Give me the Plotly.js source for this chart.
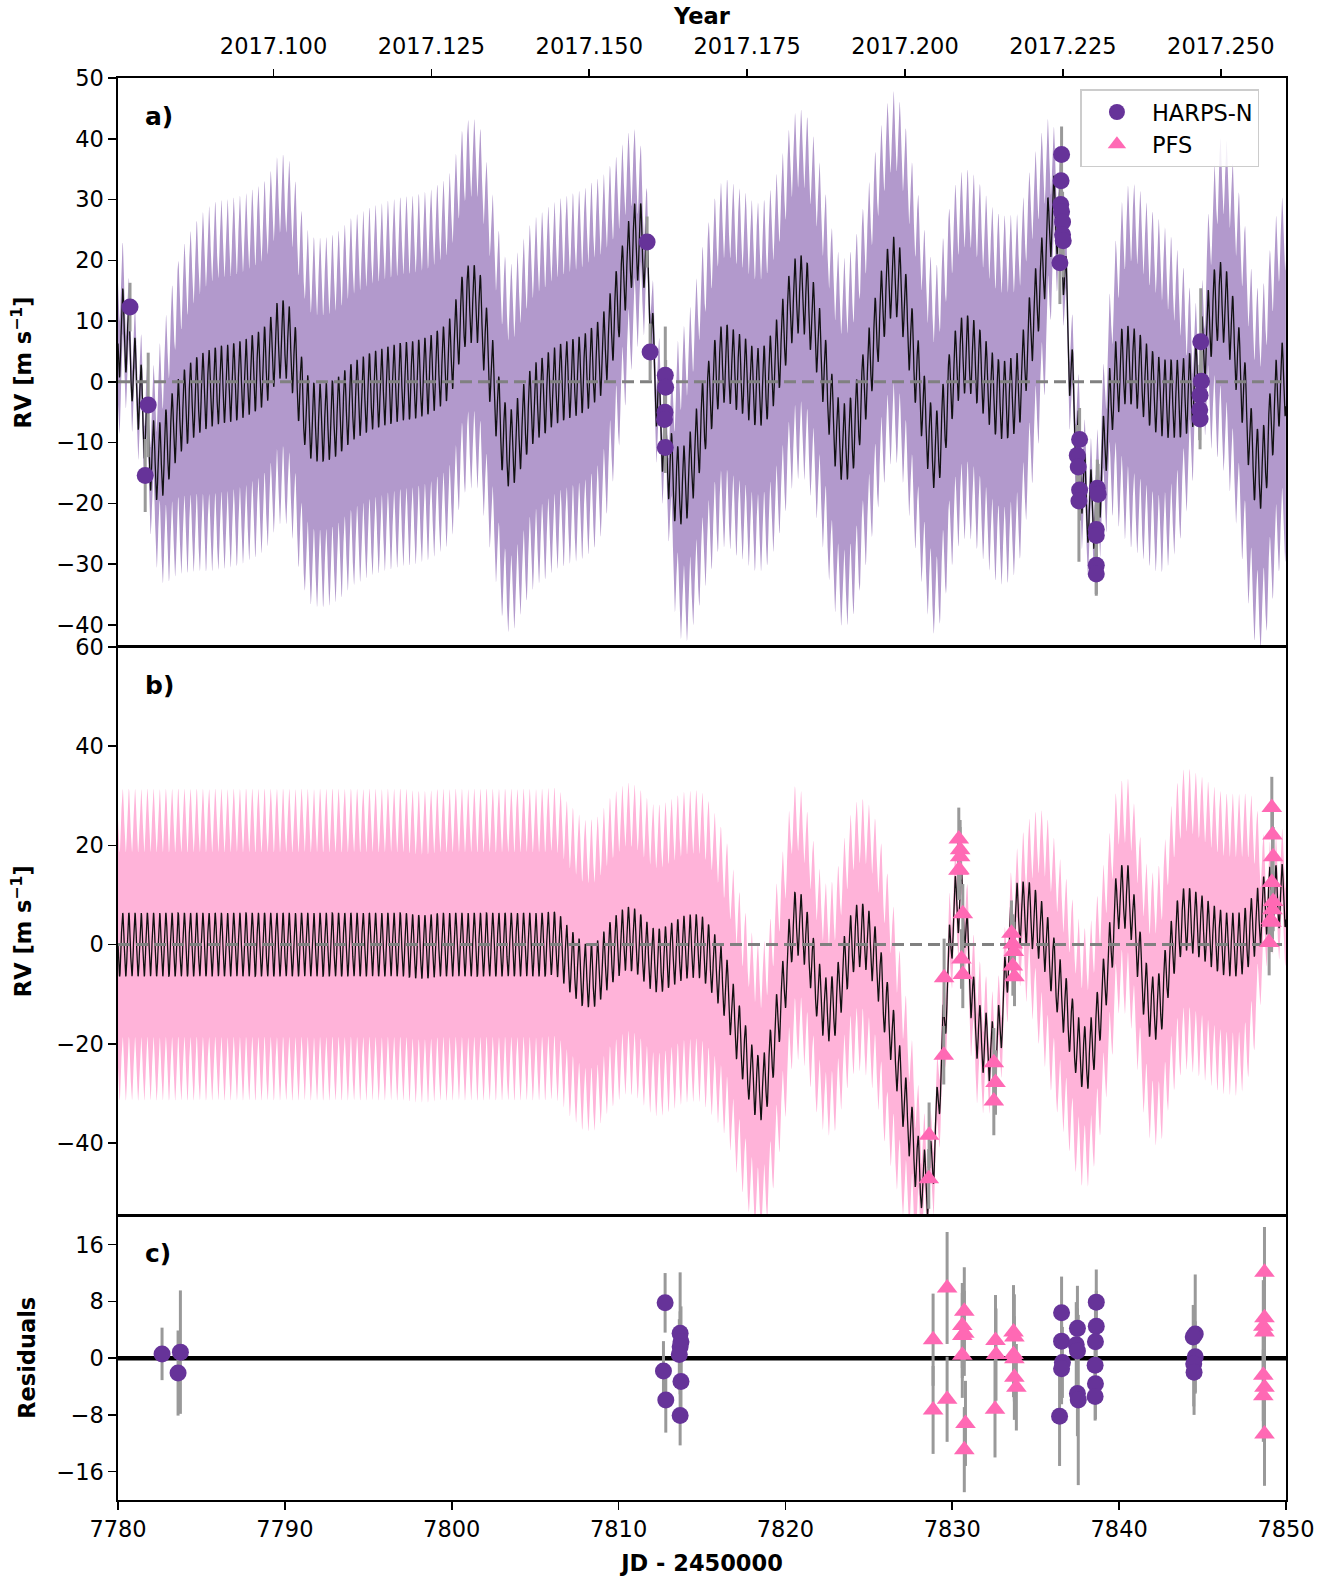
<!DOCTYPE html>
<html><head><meta charset="utf-8">
<script src="https://cdn.plot.ly/plotly-3.0.1.min.js"></script>
<style>body{margin:0;background:#fff}</style>
</head><body><div id="chart" style="width:1327px;height:1579px"></div>
<script>
// ---------- values ----------
// Planet signal (amplitude, period, a time of maximum)
const K_read = 6.4;
const P_read = 0.3696;
const tPeak_read = 7780.28;

// Panel a: smooth (GP) part of the HARPS-N model, read from the centre of the oscillation
const trendA_jd = [7780,7780.3,7780.7,7781,7781.5,7782,7782.5,7783,7783.5,7784,7785,7786,7787,7788,7789,7789.5,7790,7790.5,7791,7791.5,7792,7793,7794,7795,7796,7797,7798,7799,7800,7800.5,7801,7801.5,7802,7802.5,7803,7803.5,7804,7804.5,7805,7805.5,7806,7806.5,7807,7807.5,7808,7808.5,7809,7809.5,7810,7810.5,7811,7811.5,7811.8,7812,7812.3,7812.6,7813,7813.5,7814,7814.5,7815,7815.5,7816,7816.5,7817,7817.5,7818,7818.5,7819,7819.5,7820,7820.5,7821,7821.5,7822,7822.5,7823,7823.5,7824,7824.5,7825,7825.5,7826,7826.5,7827,7827.5,7828,7828.5,7829,7829.5,7830,7830.5,7831,7831.5,7832,7832.5,7833,7833.5,7834,7834.5,7835,7835.5,7836,7836.5,7836.8,7837,7837.3,7837.6,7838,7838.5,7839,7839.5,7840,7840.5,7841,7841.5,7842,7842.5,7843,7843.5,7844,7844.5,7845,7845.5,7846,7846.5,7847,7847.5,7848,7848.5,7849,7849.5,7850];
const trendA_rv = [6,9,5,1,-5,-12,-13,-10,-6.5,-4.3,-1.8,-0.6,0,1.2,3.4,6.5,7,4,-2.3,-6,-6.7,-6,-3.4,-1.8,-0.75,0,0.5,1.75,4.8,10,12.8,12.8,6.9,-0.2,-8,-11,-8.7,-5.5,-3.3,-2.3,-1,-0.2,0.4,0.85,1.6,2.8,4.5,8.4,13.4,19.2,23,22,17,7,-2,-8,-13,-17,-16.6,-12.5,-6.7,-2,2.2,3,1.9,1,-0.5,-0.8,0.7,4.2,9,13.6,14.4,11.6,6.3,-0.8,-7.8,-9.9,-8.4,-3.4,2.5,9,14.5,17.5,14.2,6.9,-0.2,-7.8,-11.3,-6,0.4,4,4.5,2.8,0.4,-2,-3,-2.5,-0.8,6,12.5,19.5,27.5,25,15,5,-4,-12,-19,-21,-13,-2.8,1.6,2.8,2.2,0.4,-1.4,-2.5,-2.8,-2.8,-2.2,-0.5,4.8,10.4,13.4,11.3,5,-2.5,-12,-14.5,-8.7,-1.6,1];
// Panel a: half width of the shaded band
const sigA_jd = [7780,7780.7,7781.3,7781.8,7782.5,7783.5,7784.5,7786,7808,7809,7810,7810.5,7811,7811.5,7811.8,7812.3,7812.8,7813.5,7814.5,7815.5,7817,7833,7834.5,7835.5,7836,7836.5,7837.5,7838.6,7839,7839.5,7840.3,7842,7843.5,7844.3,7844.8,7845.5,7846,7847,7848,7850];
const sigA_rv = [10,5,5,6,13,19,22,24,24,23,18,15,12,8,5,6,5,17,21,23,24,24,21,16,9,5,6,5,8,13,22,23,18,10,5,15,20,22,23,24];

// Panel b: smooth (GP) part of the PFS model
const trendB_jd = [7780,7797,7798.2,7799.5,7805.5,7806,7806.5,7807,7807.5,7808,7808.5,7809,7809.5,7810,7810.5,7811,7811.5,7812,7812.5,7813,7813.5,7814,7814.5,7815,7815.5,7816,7816.5,7817,7817.5,7818,7818.5,7819,7819.5,7820,7820.5,7821,7821.5,7822,7822.5,7823,7823.5,7824,7824.5,7825,7825.5,7826,7826.5,7827,7827.5,7828,7828.5,7829,7829.3,7829.6,7830,7830.5,7830.8,7831,7831.5,7832,7832.5,7833,7833.5,7834,7834.5,7835,7835.5,7836,7836.5,7837,7837.5,7838,7838.5,7839,7839.5,7840,7840.5,7841,7841.5,7842,7842.5,7843,7843.5,7844,7844.5,7845,7845.5,7846,7846.5,7847,7847.5,7848,7848.5,7849,7849.5,7850];
const trendB_rv = [0,0,-0.5,0,0,0.3,-0.6,-2.9,-4.7,-6.2,-6.2,-4.3,-1.8,0,1.2,0.8,-1,-2.9,-3.2,-2.3,-1.4,-0.5,-0.3,-0.7,-2.9,-5.8,-9.5,-16,-21.5,-26.7,-29,-25,-15.7,-6.5,4.1,3.4,-2.5,-9.8,-13.1,-11.7,-5,0.4,1.9,0.4,-4.3,-12.4,-20,-29.6,-37.7,-45.4,-48,-38,-25,-12,4,9,4,-5,-17,-20,-22,-13,2,6.3,6.3,4.5,1.2,-4,-9.8,-15,-20.5,-23,-18.7,-10.2,-0.3,9.6,9.6,1.5,-8.4,-12.8,-11.3,-3.2,2.6,5.2,4.4,3.4,1.9,0.8,0,0,0.8,3.4,6.3,9.2,9.6,10];
const sigB_jd = [7780,7815,7817,7820,7822.5,7824.5,7826,7827,7828,7828.6,7829.5,7830.5,7831.5,7832.5,7833.6,7834.5,7835.5,7837,7839,7840,7842,7844,7846.5,7848,7848.7,7849.1,7850];
const sigB_rv = [25,25,23,22,19,21,22,18,10,6,7,5,9,6,6,12,19,20,19,17,21,24,24,20,8,5,8];

// HARPS-N radial velocities (panel a)
const harpsJD  = [7780.72,7781.63,7781.81,7811.71,7811.89,7812.80,7812.82,7812.78,7812.75,7812.80,7836.55,7836.52,7836.50,7836.55,7836.61,7836.61,7836.65,7836.45,7837.63,7837.49,7837.55,7837.63,7837.59,7838.69,7838.74,7838.63,7838.63,7838.63,7838.63,7844.89,7844.93,7844.85,7844.83,7844.85];
const harpsRV  = [12.3,-15.4,-3.8,23.0,4.9,1.1,-0.9,-5.0,-6.2,-10.8,37.4,33.1,29.2,28.0,26.3,24.2,23.2,19.6,-9.5,-12.1,-14.0,-17.8,-19.6,-17.5,-18.5,-24.3,-25.3,-30.2,-31.6,6.6,0.1,-2.2,-4.6,-6.1];
const harpsErr = [4.0,6.0,8.6,4.2,4.7,8.0,4.5,4.5,4.5,4.2,4.6,4.5,5,5,5,5,6,6.8,5.2,5,5,5,10,4.7,5,5,5,5,3.3,8.8,5,5,5,5];

// PFS radial velocities (panel b)
const pfsJD  = [7828.59,7828.61,7829.49,7829.51,7830.39,7830.47,7830.47,7830.43,7830.37,7830.63,7830.55,7830.63,7832.49,7832.59,7832.49,7833.55,7833.63,7833.69,7833.63,7833.73,7849.15,7849.19,7849.23,7849.15,7849.23,7849.19,7849.09,7849.13,7848.99];
const pfsRV  = [-47.2,-38.4,-22.3,-6.7,21.3,19.1,17.7,15.1,15.0,6.2,-2.9,-6.0,-23.8,-27.8,-31.5,2.3,0.1,-1.4,-4.3,-6.5,27.6,22.1,17.7,12.5,8.7,7.0,5.0,4.5,0.4];
const pfsErr = [6,6.6,5.9,7.9,6.3,6,6,6,6,6,6,6.8,7,6.5,6.9,6.6,6,6,6,5.9,6.2,6,6,6,6,6,6,6,6.6];

// Residuals (panel c)
const resHJD  = [7782.64,7783.74,7783.60,7812.79,7812.69,7812.83,7813.69,7813.74,7813.69,7813.64,7813.74,7813.69,7836.55,7836.55,7836.60,7836.55,7836.43,7837.50,7837.43,7837.50,7837.50,7837.55,7838.63,7838.63,7838.58,7838.56,7838.58,7838.56,7844.56,7844.44,7844.56,7844.47,7844.49];
const resHRV  = [0.6,0.85,-2.1,7.8,-1.8,-5.9,3.5,2.3,1.6,0.5,-3.3,-8.1,6.4,2.4,-0.6,-1.5,-8.2,4.2,1.9,1.0,-5.0,-5.9,7.9,4.5,2.3,-1.0,-3.6,-5.4,3.4,3.0,0.2,-0.8,-2.0];
const resHErr = [3.7,8.7,6,4.2,4.2,4.6,8.6,5,5,5,5,4.2,5.1,5,5,5,7,6,6,6,6,12,4.6,5,5,5,5,3.4,8.4,4.5,5,6,6];
const resPJD  = [7828.85,7828.85,7829.69,7829.69,7830.72,7830.60,7830.72,7830.60,7830.60,7830.79,7830.72,7832.59,7832.62,7832.56,7833.67,7833.72,7833.67,7833.72,7833.72,7833.84,7848.71,7848.71,7848.64,7848.71,7848.64,7848.71,7848.64,7848.71];
const resPRV  = [2.6,-7.3,9.9,-5.8,6.6,4.6,3.5,3.2,0.4,-9.2,-12.9,2.5,0.5,-7.2,3.7,3.0,0.5,-0.1,-2.7,-4.1,12.1,5.7,4.5,3.7,-2.4,-4.1,-5.3,-10.7];
const resPErr = [6.5,6.2,7.9,6,6.2,6,6,6,6,6,6,6.4,6.5,6.8,6.6,6,6,6,6,6.1,6.4,6.5,6.5,6.5,6.5,6.5,6.5,7.3];

// Axis labels
const yearTicks = [2017.100,2017.125,2017.150,2017.175,2017.200,2017.225,2017.250];
const yearRange = [2017.07537, 2017.26033];
const jdRange = [7780, 7850];

// ---------- helpers ----------
function hermite(ts, vs) {
  const n = ts.length, m = new Array(n);
  for (let i = 0; i < n; i++) {
    if (i === 0) m[i] = (vs[1]-vs[0])/(ts[1]-ts[0]);
    else if (i === n-1) m[i] = (vs[n-1]-vs[n-2])/(ts[n-1]-ts[n-2]);
    else {
      const d0 = (vs[i]-vs[i-1])/(ts[i]-ts[i-1]), d1 = (vs[i+1]-vs[i])/(ts[i+1]-ts[i]);
      m[i] = (d0*d1 <= 0) ? 0 : (d0+d1)/2;
    }
  }
  return function(t) {
    if (t <= ts[0]) return vs[0];
    if (t >= ts[n-1]) return vs[n-1];
    let i = 0; while (t > ts[i+1]) i++;
    const h = ts[i+1]-ts[i], s = (t-ts[i])/h, s2 = s*s, s3 = s2*s;
    return (2*s3-3*s2+1)*vs[i] + (s3-2*s2+s)*h*m[i] + (-2*s3+3*s2)*vs[i+1] + (s3-s2)*h*m[i+1];
  };
}
function buildModel(tj, tv, sj, sv) {
  const tr = hermite(tj, tv), sg = hermite(sj, sv);
  const t = [], y = [], lo = [], hi = [];
  for (let x = jdRange[0]; x <= jdRange[1] + 1e-9; x += 0.015) {
    const v = tr(x) + K_read*Math.cos(2*Math.PI*(x - tPeak_read)/P_read);
    const s = Math.max(2, sg(x));
    t.push(x); y.push(v); lo.push(v - s); hi.push(v + s);
  }
  return {t, y, lo, hi};
}

const mA = buildModel(trendA_jd, trendA_rv, sigA_jd, sigA_rv);
const mB = buildModel(trendB_jd, trendB_rv, sigB_jd, sigB_rv);

const PURPLE = '#663399', PINK = '#ff69b4';
const BANDA = '#b299cc', BANDB = '#ffb3d9';
const ERRC = '#999999';
const FONT = 'DejaVu Sans, Liberation Sans, sans-serif';

function band(m, xa, ya, col) {
  return [
    {x: m.t, y: m.lo, xaxis: xa, yaxis: ya, mode: 'lines', line: {width: 0, color: col}, showlegend: false, hoverinfo: 'skip'},
    {x: m.t, y: m.hi, xaxis: xa, yaxis: ya, mode: 'lines', line: {width: 0, color: col}, fill: 'tonexty', fillcolor: col, showlegend: false, hoverinfo: 'skip'},
    {x: m.t, y: m.y, xaxis: xa, yaxis: ya, mode: 'lines', line: {width: 1.3, color: '#111111'}, showlegend: false, hoverinfo: 'skip'},
    {x: jdRange, y: [0, 0], xaxis: xa, yaxis: ya, mode: 'lines', line: {width: 3, color: '#808080', dash: '12px,6px'}, showlegend: false, hoverinfo: 'skip'}
  ];
}
function pts(x, y, e, xa, ya, col, sym, size, name, leg) {
  return {x, y, xaxis: xa, yaxis: ya, mode: 'markers', name, showlegend: leg,
    marker: {color: col, symbol: sym, size: size, line: {width: 0}},
    error_y: {type: 'data', array: e, visible: true, color: ERRC, thickness: 3, width: 0}};
}

const traces = [
  ...band(mA, 'x', 'y', BANDA),
  pts(harpsJD, harpsRV, harpsErr, 'x', 'y', PURPLE, 'circle', 17, 'HARPS-N', true),
  ...band(mB, 'x2', 'y2', BANDB),
  pts(pfsJD, pfsRV, pfsErr, 'x2', 'y2', PINK, 'triangle-up', 18, 'PFS', true),
  {x: jdRange, y: [0, 0], xaxis: 'x3', yaxis: 'y3', mode: 'lines', line: {width: 4.5, color: '#000'}, showlegend: false, hoverinfo: 'skip'},
  pts(resHJD, resHRV, resHErr, 'x3', 'y3', PURPLE, 'circle', 17, 'HARPS-N', false),
  pts(resPJD, resPRV, resPErr, 'x3', 'y3', PINK, 'triangle-up', 18, 'PFS', false),
  {x: [yearTicks[0]], y: [0], xaxis: 'x4', yaxis: 'y', mode: 'markers', marker: {opacity: 0}, showlegend: false, hoverinfo: 'skip'}
];

const tickFont = {family: FONT, size: 22.5, color: '#000'};
const titleFont = {family: FONT, size: 22.5, color: '#000'};
const common = {showline: true, linecolor: '#000', linewidth: 1.6, mirror: true, showgrid: false, zeroline: false,
  ticks: 'outside', ticklen: 8, tickwidth: 1.6, tickcolor: '#000', tickfont: tickFont};

const layout = {
  width: 1327, height: 1579,
  margin: {l: 118, r: 41, t: 78, b: 79},
  paper_bgcolor: '#fff', plot_bgcolor: '#fff',
  font: {family: FONT, color: '#000'},
  xaxis: Object.assign({}, common, {domain: [0, 1], anchor: 'y', range: jdRange, ticks: '', showticklabels: false}),
  yaxis: Object.assign({}, common, {domain: [0.6, 1], anchor: 'x', range: [-43.6, 50], tickvals: [-40,-30,-20,-10,0,10,20,30,40,50],
    ticktext: ['\u221240','\u221230','\u221220','\u221210','0','10','20','30','40','50'],
    title: {text: '<b>RV [m s<sup>\u22121</sup>]</b>', font: titleFont, standoff: 18}}),
  xaxis2: Object.assign({}, common, {domain: [0, 1], anchor: 'y2', range: jdRange, matches: 'x', ticks: '', showticklabels: false}),
  yaxis2: Object.assign({}, common, {domain: [0.2, 0.6], anchor: 'x2', range: [-54.6, 60], tickvals: [-40,-20,0,20,40,60],
    ticktext: ['\u221240','\u221220','0','20','40','60'],
    title: {text: '<b>RV [m s<sup>\u22121</sup>]</b>', font: titleFont, standoff: 18}}),
  xaxis3: Object.assign({}, common, {domain: [0, 1], anchor: 'y3', range: jdRange, matches: 'x', tickvals: [7780,7790,7800,7810,7820,7830,7840,7850],
    title: {text: '<b>JD - 2450000</b>', font: titleFont, standoff: 14}}),
  yaxis3: Object.assign({}, common, {domain: [0, 0.2], anchor: 'x3', range: [-20, 20.1], tickvals: [-16,-8,0,8,16],
    ticktext: ['\u221216','\u22128','0','8','16'],
    title: {text: '<b>Residuals</b>', font: titleFont, standoff: 14}}),
  xaxis4: {overlaying: 'x', anchor: 'y', side: 'top', range: yearRange, showgrid: false, zeroline: false,
    ticks: 'outside', ticklen: 8, tickwidth: 1.6, tickcolor: '#000', tickfont: tickFont, ticklabelstandoff: 6,
    tickvals: yearTicks, ticktext: yearTicks.map(v => v.toFixed(3)),
    title: {text: '<b>Year</b>', font: titleFont, standoff: 2}},
  legend: {x: 0.824, y: 0.992, xanchor: 'left', yanchor: 'top', bgcolor: 'rgba(255,255,255,0.85)', traceorder: 'normal',
    itemwidth: 60, bordercolor: '#cccccc', borderwidth: 1.5, font: {family: FONT, size: 22.5, color: '#000'}},
  annotations: [
    {text: '<b>a)</b>', xref: 'x domain', yref: 'y domain', x: 0.021, y: 0.932, xanchor: 'left', yanchor: 'middle', showarrow: false, font: {family: FONT, size: 25}},
    {text: '<b>b)</b>', xref: 'x2 domain', yref: 'y2 domain', x: 0.021, y: 0.932, xanchor: 'left', yanchor: 'middle', showarrow: false, font: {family: FONT, size: 25}},
    {text: '<b>c)</b>', xref: 'x3 domain', yref: 'y3 domain', x: 0.021, y: 0.867, xanchor: 'left', yanchor: 'middle', showarrow: false, font: {family: FONT, size: 25}}
  ],
  showlegend: true
};

Plotly.newPlot('chart', traces, layout, {staticPlot: true, displayModeBar: false});
</script></body></html>
